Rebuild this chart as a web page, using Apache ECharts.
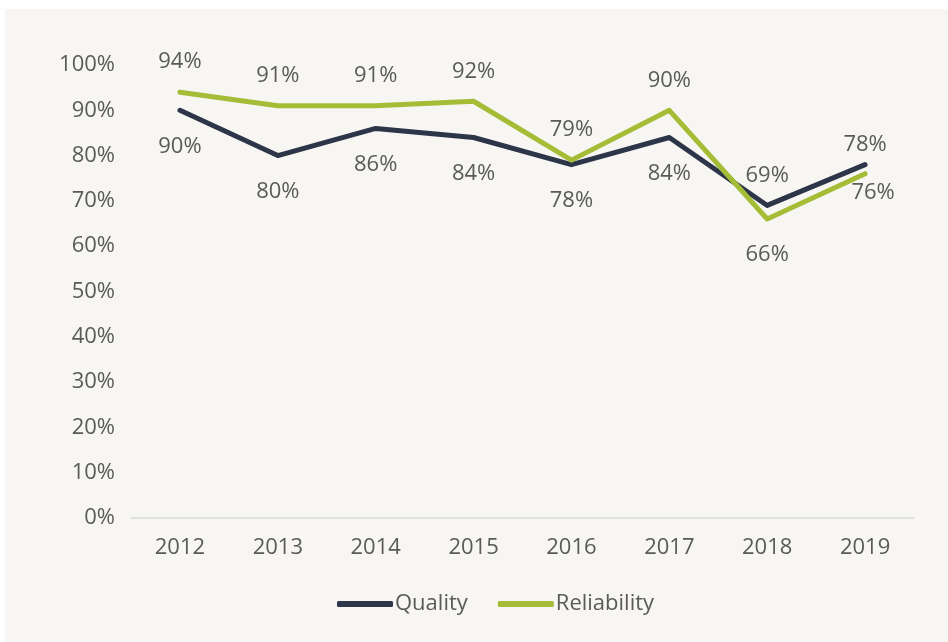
<!DOCTYPE html>
<html><head><meta charset="utf-8">
<script src="https://cdn.jsdelivr.net/npm/echarts@6/dist/echarts.min.js"></script>
<style>html,body{margin:0;padding:0;background:#fff;}#c{position:absolute;left:5px;top:9px;width:943px;height:633px;background:#f7f6f2;}</style>
</head><body><div id="c"></div>
<script>
const years = ['2012','2013','2014','2015','2016','2017','2018','2019'];
const quality = [90, 80, 86, 84, 78, 84, 69, 78];
const reliability = [94, 91, 91, 92, 79, 90, 66, 76];
const yTicks = [0,10,20,30,40,50,60,70,80,90,100];

const FONT = "'Open Sans', sans-serif";
const TXT = '#5a5a5a';
const FS = 22;
const chart = echarts.init(document.getElementById('c'));

const qLabelPos = ['bottom','bottom','bottom','bottom','bottom','bottom','top','top'];
const rLabelPos = ['top','top','top','top','top','top','bottom','bottom'];

function mk(vals, pos, special) {
  return vals.map((v, i) => {
    const o = { value: v, label: { show: true, position: pos[i], distance: pos[i] === 'top' ? 19 : 25 } };
    if (special[i]) Object.assign(o.label, special[i]);
    return o;
  });
}

chart.setOption({
  backgroundColor: '#f7f6f2',
  textStyle: { fontFamily: FONT },
  grid: { left: 126, right: 34, top: 56, bottom: 124 },
  legend: {
    bottom: 22, left: 327,
    icon: 'roundRect', itemWidth: 56, itemHeight: 6, itemGap: 30,
    textStyle: { fontFamily: FONT, fontSize: FS, color: TXT, padding: [0,0,0,-3] },
    data: ['Quality', 'Reliability']
  },
  xAxis: {
    type: 'category', data: years, boundaryGap: true,
    axisLine: { lineStyle: { color: '#d9d9d9', width: 1.5 } },
    axisTick: { show: false },
    axisLabel: { fontFamily: FONT, fontSize: FS, color: TXT, margin: 19 }
  },
  yAxis: {
    type: 'value', min: 0, max: 100, interval: 10,
    splitLine: { show: false },
    axisLine: { show: false }, axisTick: { show: false },
    axisLabel: { fontFamily: FONT, fontSize: FS, color: TXT, margin: 16, formatter: v => v + '%' }
  },
  series: [
    {
      name: 'Quality', type: 'line', symbol: 'circle', symbolSize: 0.01, showSymbol: true,
      color: '#2d3549',
      lineStyle: { width: 5, color: '#2d3549', cap: 'round', join: 'round' },
      label: { show: true, fontFamily: FONT, fontSize: FS, color: TXT, formatter: '{c}%' },
      data: mk(quality, qLabelPos, { 7: { distance: 9 } })
    },
    {
      name: 'Reliability', type: 'line', symbol: 'circle', symbolSize: 0.01, showSymbol: true,
      color: '#a5bd36',
      lineStyle: { width: 5, color: '#a5bd36', cap: 'round', join: 'round' },
      label: { show: true, fontFamily: FONT, fontSize: FS, color: TXT, formatter: '{c}%' },
      data: mk(reliability, rLabelPos, { 7: { distance: 8, offset: [8, 0] } })
    }
  ]
});
</script></body></html>
